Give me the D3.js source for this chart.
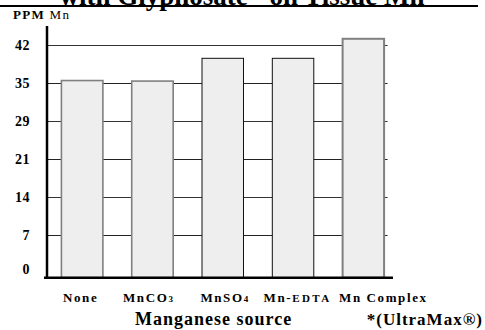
<!DOCTYPE html>
<html>
<head>
<meta charset="utf-8">
<script src="https://cdn.jsdelivr.net/npm/d3@7"></script>
<style>
  html, body { margin: 0; padding: 0; background: #fff; }
  svg { display: block; }
  svg text { font-family: "Liberation Serif", "Times New Roman", serif !important; }
</style>
</head>
<body>
<svg id="chart" width="485" height="330"></svg>
<script>
// ---- data ----
const categories = ["None", "MnCO3", "MnSO4", "Mn-EDTA", "Mn Complex"];
const tissueMn = [35.5, 35.4, 39.6, 39.6, 43.2];
const tickValues = [0, 7, 14, 21, 28, 35, 42];
const tickLabels = ["0", "7", "14", "21", "29", "35", "42"];
const titleText = 'with Glyphosate" on Tissue Mn';
const yLabelBold = "PPM";
const yLabelUnit = "Mn";
const xTitle = "Manganese source";
const footnote = "*(UltraMax\u00AE)";

// ---- drawing ----
const FONT = "Liberation Serif, Times New Roman, serif";
const svg = d3.select("#chart");

const x = d3.scaleBand()
  .domain(categories)
  .range([47, 398.5])
  .paddingInner(0.41)
  .paddingOuter(0.205);

const y = d3.scaleLinear().domain([0, 42]).range([273, 45.3]);
const baselineY = y(0) + 4.7;

// title (partially cut at top, as in the reference)
svg.append("text")
  .attr("x", 242).attr("y", 5)
  .attr("text-anchor", "middle")
  .attr("font-family", FONT)
  .attr("font-size", 27).attr("font-weight", "bold")
  .text(titleText);
svg.append("line")
  .attr("x1", 0).attr("x2", 478).attr("y1", 6).attr("y2", 6)
  .attr("stroke", "#000").attr("stroke-width", 2);

// y label
const yl = svg.append("text").attr("x", 13).attr("y", 18.5)
  .attr("font-family", FONT).attr("font-size", 13).attr("letter-spacing", 1.3);
yl.append("tspan").attr("font-weight", "bold").text(yLabelBold);
yl.append("tspan").text(" " + yLabelUnit);

// gridlines
const gridEnd = x(categories[categories.length - 1]) + x.bandwidth() + 3.5;
svg.append("g").selectAll("line")
  .data(tickValues.filter(d => d !== 0))
  .join("line")
  .attr("x1", 47).attr("x2", gridEnd)
  .attr("y1", d => Math.round(y(d)) + 0.5).attr("y2", d => Math.round(y(d)) + 0.5)
  .attr("stroke", (d, i) => (i % 2 === 1 ? "#333" : "#222"))
  .attr("stroke-width", 1);

// y axis via d3 axis (labels only)
const yAxis = d3.axisLeft(y)
  .tickValues(tickValues)
  .tickFormat((d, i) => tickLabels[i])
  .tickSize(0)
  .tickPadding(0);
const gy = svg.append("g").attr("transform", "translate(30,0)").call(yAxis);
gy.attr("font-family", FONT);
gy.select(".domain").remove();
gy.selectAll("text")
  .attr("font-family", FONT)
  .attr("font-size", 14)
  .attr("font-weight", "bold")
  .attr("letter-spacing", 0.5)
  .attr("fill", "#000")
  .attr("dy", (d) => d === 0 ? "0.05em" : "0.32em");

// bars
const strokeFor = i => (i === 2 || i === 3) ? "#111" : "#808080";
const strokeW = i => (i === 2 || i === 3) ? 1 : (i === 4 ? 2 : 1.6);
svg.append("g").selectAll("rect")
  .data(tissueMn)
  .join("rect")
  .attr("x", (d, i) => x(categories[i]))
  .attr("y", d => y(d))
  .attr("width", x.bandwidth())
  .attr("height", d => baselineY - y(d))
  .attr("fill", "#eeeeee")
  .attr("stroke", (d, i) => strokeFor(i))
  .attr("stroke-width", (d, i) => strokeW(i));

// axes lines
svg.append("line")
  .attr("x1", 47).attr("x2", 47).attr("y1", 26).attr("y2", baselineY)
  .attr("stroke", "#000").attr("stroke-width", 2.5);
svg.append("line")
  .attr("x1", 44).attr("x2", 393).attr("y1", baselineY).attr("y2", baselineY)
  .attr("stroke", "#000").attr("stroke-width", 2.6);

// x category labels with small subscripts / small caps
// (labels in the original flow slightly off-centre; small nudges reproduce that)
const labelNudge = i => [-1.5, -4.5, 1.5, 4.5, 20][i];
const xl = svg.append("g");
categories.forEach((c, i) => {
  const m = c.match(/^(.*?)(\d+|EDTA)$/);
  const t = xl.append("text")
    .attr("x", x(c) + x.bandwidth() / 2 + labelNudge(i))
    .attr("y", 302)
    .attr("text-anchor", "middle")
    .attr("font-family", FONT)
    .attr("font-size", 13)
    .attr("letter-spacing", 1.6)
    .attr("font-weight", "bold");
  if (m) {
    t.append("tspan").text(m[1]);
    t.append("tspan")
      .attr("font-size", m[2] === "EDTA" ? 11 : 9)
      .attr("letter-spacing", m[2] === "EDTA" ? 2.4 : 0)
      .text(m[2]);
  } else {
    t.text(c);
  }
});

// x title and footnote
svg.append("text")
  .attr("x", 135).attr("y", 325)
  .attr("font-family", FONT)
  .attr("font-size", 18).attr("font-weight", "bold")
  .attr("letter-spacing", 1)
  .text(xTitle);
svg.append("text")
  .attr("x", 483).attr("y", 325)
  .attr("text-anchor", "end")
  .attr("font-family", FONT)
  .attr("font-size", 17).attr("font-weight", "bold")
  .attr("letter-spacing", 1)
  .text(footnote);
</script>
</body>
</html>
